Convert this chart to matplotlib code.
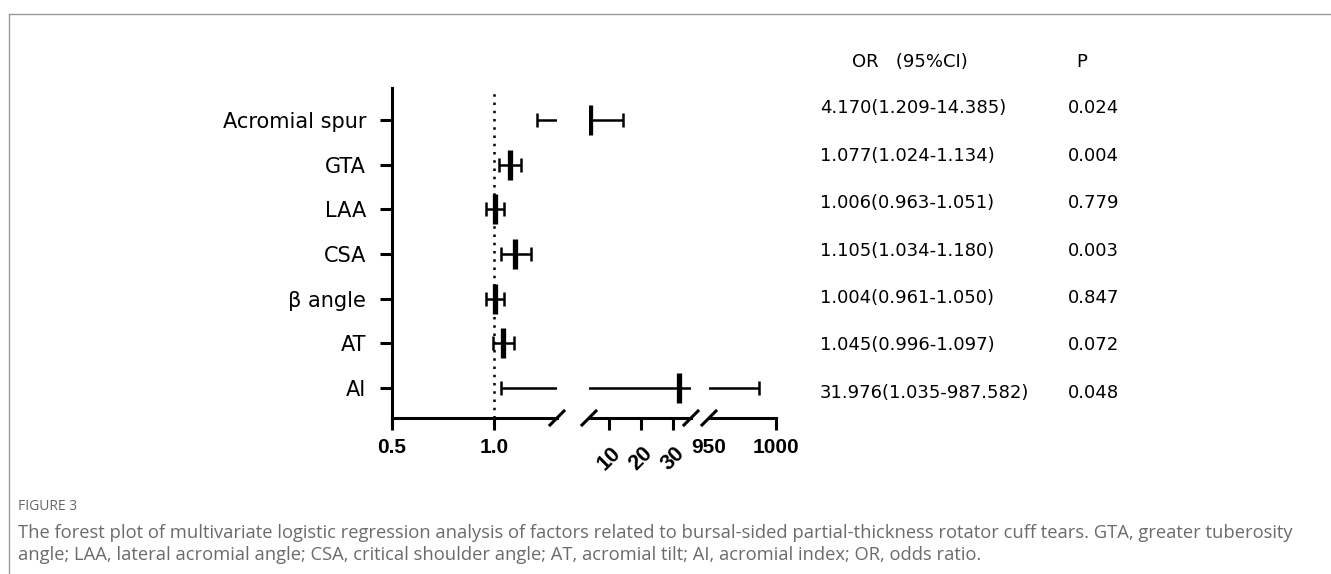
import matplotlib
matplotlib.use('Agg')
import matplotlib.pyplot as plt
from matplotlib.lines import Line2D

# data
labels = ['Acromial spur', 'GTA', 'LAA', 'CSA', 'β angle', 'AT', 'AI']
or_vals = [4.170, 1.077, 1.006, 1.105, 1.004, 1.045, 31.976]
ci_lo = [1.209, 1.024, 0.963, 1.034, 0.961, 0.996, 1.035]
ci_hi = [14.385, 1.134, 1.051, 1.180, 1.050, 1.097, 987.582]
or_text = ['4.170(1.209-14.385)', '1.077(1.024-1.134)', '1.006(0.963-1.051)',
           '1.105(1.034-1.180)', '1.004(0.961-1.050)', '1.045(0.996-1.097)',
           '31.976(1.035-987.582)']
p_text = ['0.024', '0.004', '0.779', '0.003', '0.847', '0.072', '0.048']

seg_lims = [(0.5, 1.309), (3.75, 35.625), (950, 1000)]
seg_ticks = [[0.5, 1.0], [10, 20, 30], [950, 1000]]
seg_ticklabels = [['0.5', '1.0'], ['10', '20', '30'], ['950', '1000']]

W, H = 1331, 574
fig = plt.figure(figsize=(W / 100, H / 100), dpi=100)

ybot, ytop = 418, 88
seg_px = [(392, 557), (589, 691), (709, 776)]
axes = []
for (x0, x1) in seg_px:
    ax = fig.add_axes([x0 / W, 1 - ybot / H, (x1 - x0) / W, (ybot - ytop) / H])
    axes.append(ax)

lw_axis = 2.2
n = len(labels)
ypos = [n - i for i in range(n)]
for k, ax in enumerate(axes):
    lo_lim, hi_lim = seg_lims[k]
    ax.set_xlim(lo_lim, hi_lim)
    ax.set_ylim(0.328, 7.716)
    for s in ['top', 'right', 'left']:
        ax.spines[s].set_visible(False)
    ax.spines['bottom'].set_linewidth(lw_axis)
    ax.set_xticks(seg_ticks[k])
    if k == 1:
        ax.set_xticklabels(seg_ticklabels[k], fontsize=15.5, fontweight='bold',
                           family='Liberation Sans', rotation=45)
        ax.tick_params(axis='x', length=8.6, width=lw_axis, pad=9)
    else:
        ax.set_xticklabels(seg_ticklabels[k], fontsize=15, fontweight='bold',
                           family='Liberation Sans')
        ax.tick_params(axis='x', length=8.6, width=lw_axis, pad=6)
    ax.set_yticks([])
    # error bars
    for i in range(n):
        y = ypos[i]
        ax.hlines(y, ci_lo[i], ci_hi[i], color='black', lw=1.8)
        for c in (ci_lo[i], ci_hi[i]):
            if lo_lim <= c <= hi_lim:
                ax.vlines(c, y - 0.157, y + 0.157, color='black', lw=1.8)
        if lo_lim <= or_vals[i] <= hi_lim:
            ax.vlines(or_vals[i], y - 0.336, y + 0.336, color='black', lw=3.8)

# 950 has no tick mark
axes[2].xaxis.get_major_ticks()[0].tick1line.set_visible(False)

ax1 = axes[0]
ax1.spines['left'].set_visible(True)
ax1.spines['left'].set_linewidth(lw_axis)
ax1.set_yticks(ypos)
ax1.set_yticklabels(labels, fontsize=15, family='DejaVu Sans')
ax1.tick_params(axis='y', length=8.6, width=lw_axis, pad=10)
ax1.axvline(1.0, color='black', lw=1.8, linestyle=(0, (1, 2.3)))

# break marks
def slash(ax, xa, px_w):
    dx = 7 / px_w
    dy = 7 / (ybot - ytop)
    ax.plot([xa - dx, xa + dx], [-dy, dy], color='black', lw=lw_axis,
            transform=ax.transAxes, clip_on=False)

slash(axes[0], 1, seg_px[0][1] - seg_px[0][0])
slash(axes[1], 0, seg_px[1][1] - seg_px[1][0])
slash(axes[1], 1, seg_px[1][1] - seg_px[1][0])
slash(axes[2], 0, seg_px[2][1] - seg_px[2][0])

# table on the right
tfont = dict(fontsize=13, family='DejaVu Sans', va='center')
fig.text(852 / W, 1 - 62 / H, 'OR   (95%CI)', ha='left', **tfont)
fig.text(1076 / W, 1 - 62 / H, 'P', ha='left', **tfont)
for i in range(n):
    yy = 1 - (108 + i * 47.5) / H
    fig.text(820 / W, yy, or_text[i], ha='left', **tfont)
    fig.text(1068 / W, yy, p_text[i], ha='left', **tfont)

# caption
fig.text(18 / W, 1 - 507 / H, 'FIGURE 3', fontsize=10, color='#666666',
         family='Open Sans', va='center')
fig.text(18 / W, 1 - 533 / H,
         'The forest plot of multivariate logistic regression analysis of factors related to '
         'bursal-sided partial-thickness rotator cuff tears. GTA, greater tuberosity',
         fontsize=13.2, color='#6b6b6b', family='Open Sans', va='center')
fig.text(18 / W, 1 - 555 / H,
         'angle; LAA, lateral acromial angle; CSA, critical shoulder angle; AT, acromial tilt; '
         'AI, acromial index; OR, odds ratio.',
         fontsize=13.2, color='#6b6b6b', family='Open Sans', va='center')

# page frame
fig.add_artist(Line2D([9 / W, 1], [1 - 14 / H, 1 - 14 / H], color='#999999', lw=1,
                      transform=fig.transFigure))
fig.add_artist(Line2D([9 / W, 9 / W], [0, 1 - 14 / H], color='#999999', lw=1,
                      transform=fig.transFigure))

fig.savefig('out.png', dpi=100)
